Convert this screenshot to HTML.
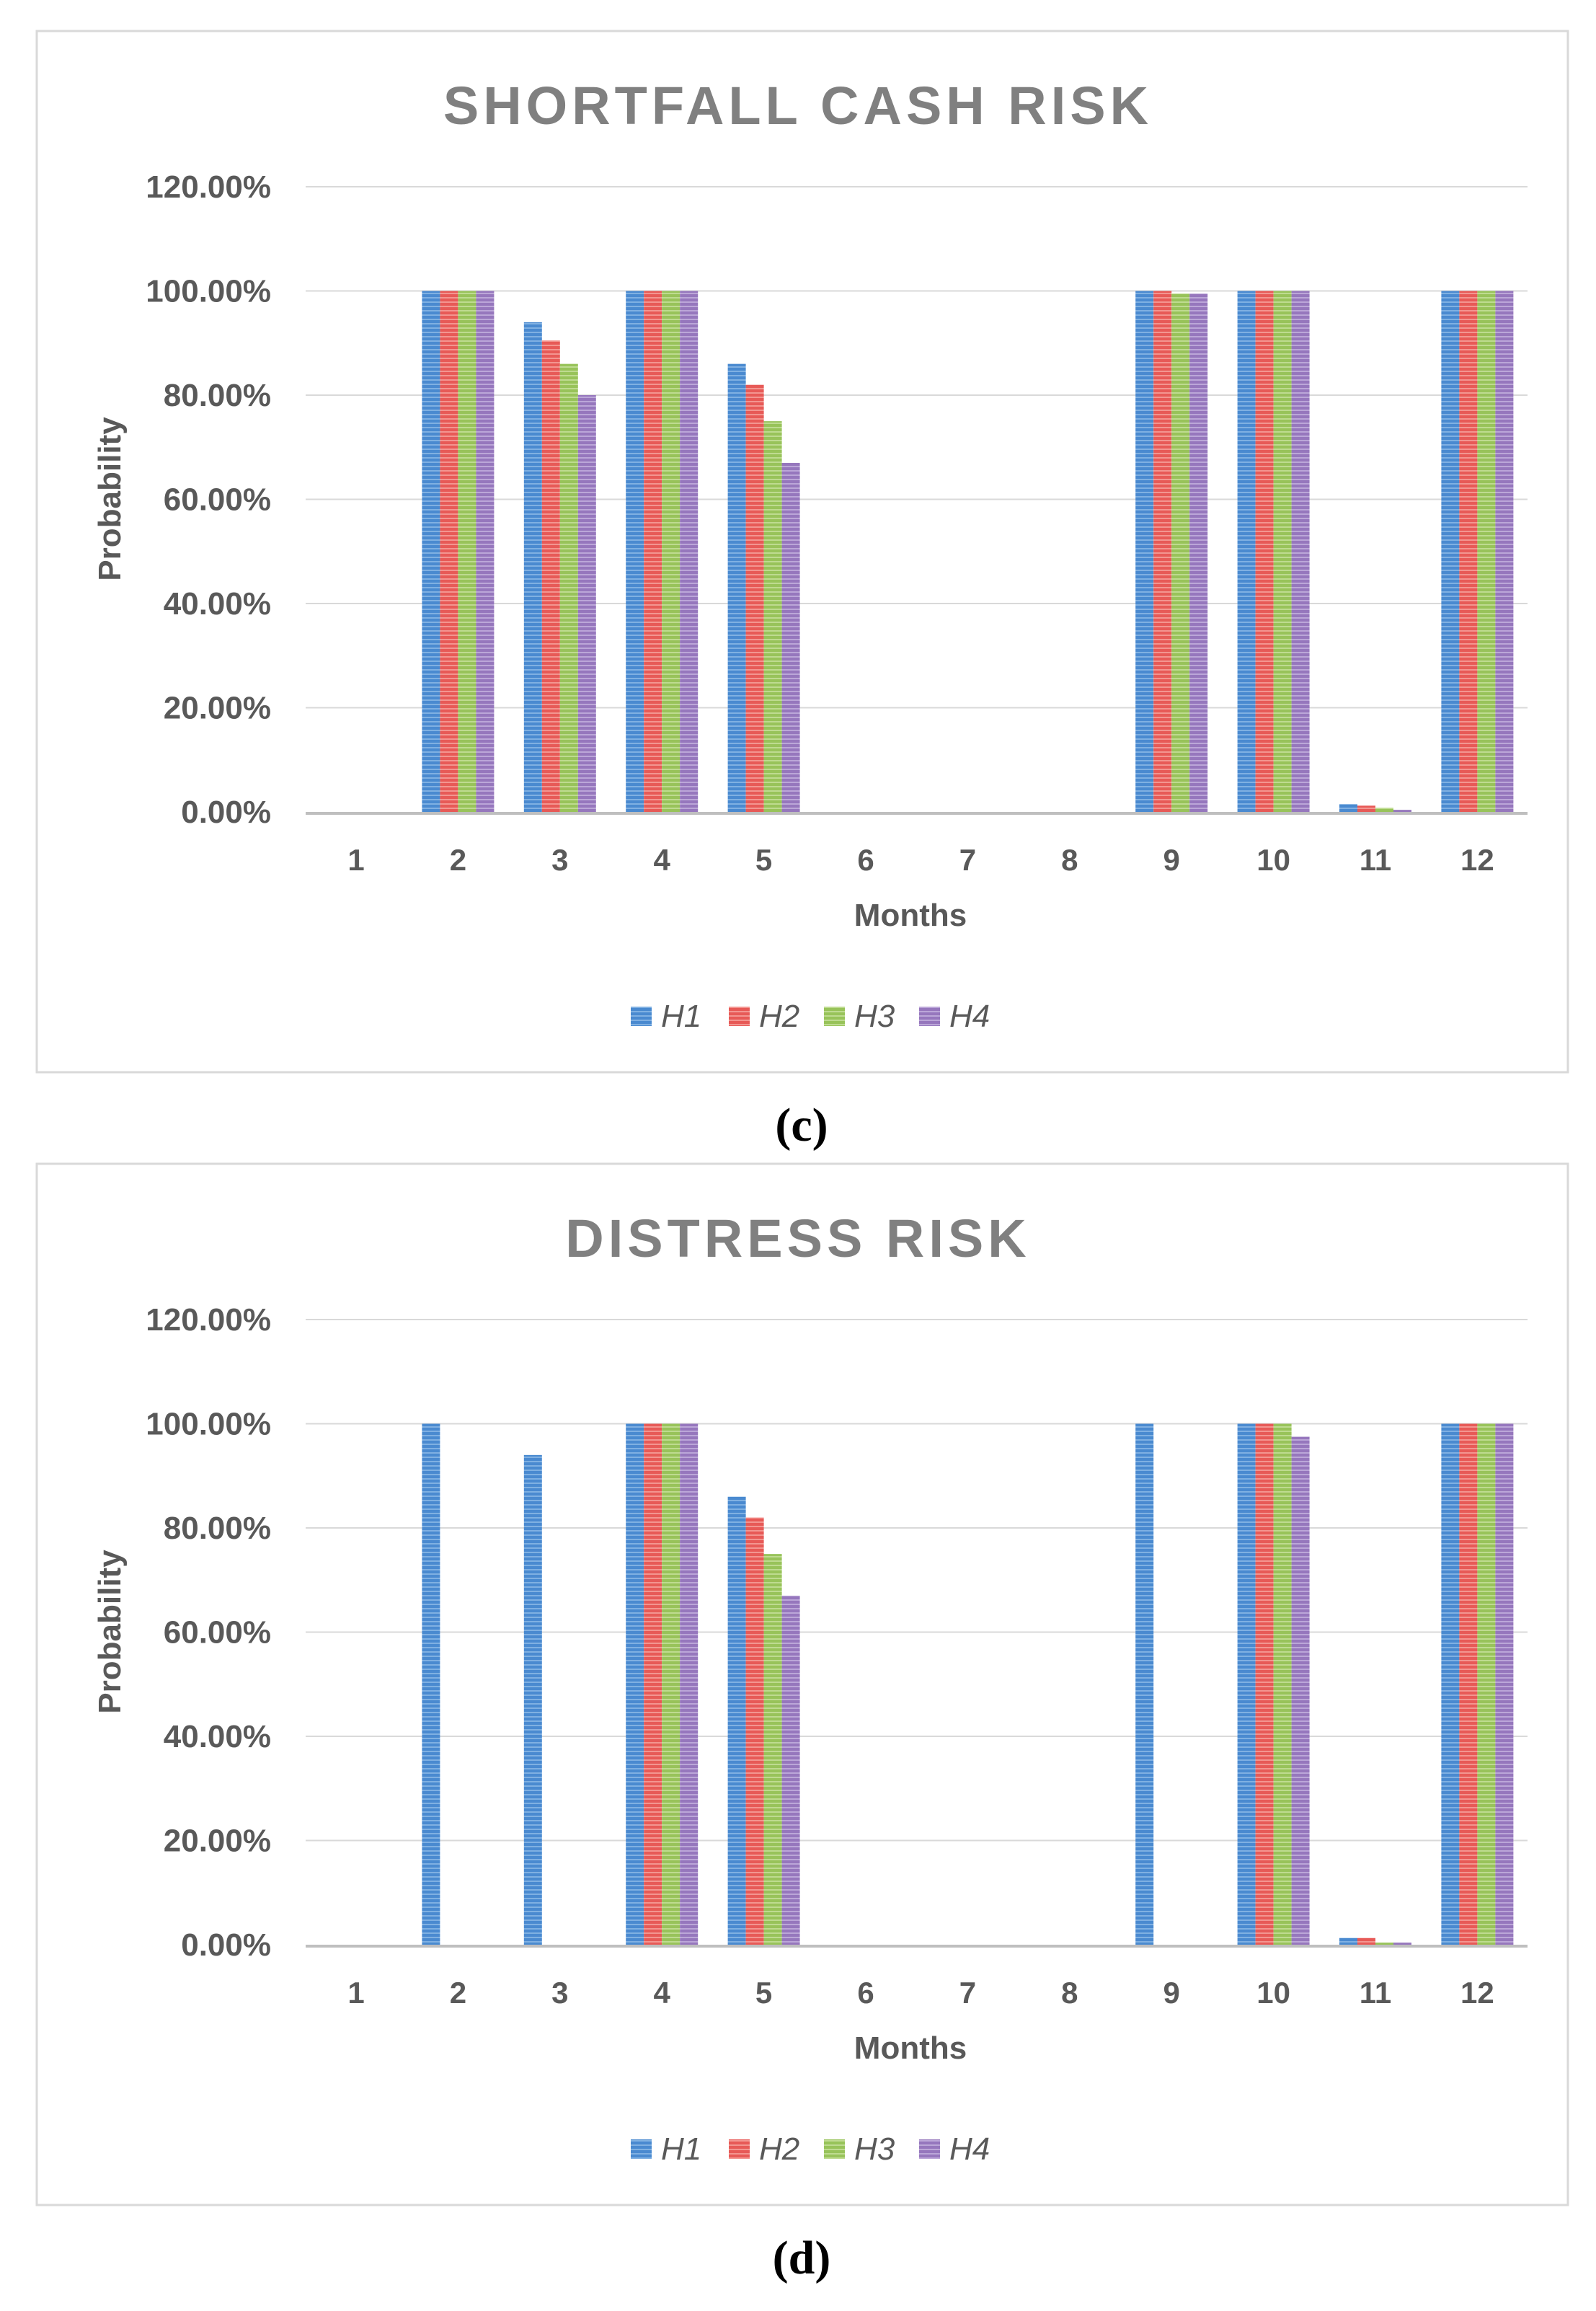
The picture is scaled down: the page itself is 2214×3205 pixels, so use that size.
<!DOCTYPE html>
<html><head><meta charset="utf-8">
<style>
html,body{margin:0;padding:0;background:#fff;}
svg{display:block;}
</style></head>
<body>
<svg id="s" xmlns="http://www.w3.org/2000/svg" width="2214" height="3205" viewBox="0 0 2214 3205">
<defs>
<pattern id="pb" width="10" height="6" patternUnits="userSpaceOnUse"><rect width="10" height="6" fill="#4a8ad0"/><rect y="4" width="10" height="2" fill="#7fb0e2"/></pattern>
<pattern id="pr" width="10" height="6" patternUnits="userSpaceOnUse"><rect width="10" height="6" fill="#e75a57"/><rect y="4" width="10" height="2" fill="#f39590"/></pattern>
<pattern id="pg" width="10" height="6" patternUnits="userSpaceOnUse"><rect width="10" height="6" fill="#98c35a"/><rect y="4" width="10" height="2" fill="#bedb90"/></pattern>
<pattern id="pp" width="10" height="6" patternUnits="userSpaceOnUse"><rect width="10" height="6" fill="#9677bd"/><rect y="4" width="10" height="2" fill="#bba6d8"/></pattern>
</defs>
<g id="root"></g>
</svg>
<script>
var NS="http://www.w3.org/2000/svg";
var root=document.getElementById('root');
function el(t,a,txt){var e=document.createElementNS(NS,t);for(var k in a)e.setAttribute(k,a[k]);if(txt!==undefined)e.textContent=txt;root.appendChild(e);return e;}
var pats=['url(#pb)','url(#pr)','url(#pg)','url(#pp)'];
function panel(off,title,data,label){
  el('rect',{x:51,y:43+off,width:2124,height:1444,fill:'#fff',stroke:'#d9d9d9','stroke-width':3});
  el('text',{x:1107,y:172+off,'text-anchor':'middle','font-family':'Liberation Sans, sans-serif','font-weight':'bold','font-size':74,fill:'#808080','letter-spacing':6},title);
  var y0=1126+off, step=144.5;
  var labs=['0.00%','20.00%','40.00%','60.00%','80.00%','100.00%','120.00%'];
  for(var i=0;i<7;i++){
    var y=y0-i*step;
    if(i>0) el('line',{x1:424,x2:2119,y1:y,y2:y,stroke:'#d9d9d9','stroke-width':2});
    el('text',{x:376,y:y+15,'text-anchor':'end','font-family':'Liberation Sans, sans-serif','font-weight':'bold','font-size':44,fill:'#595959'},labs[i]);
  }
  for(var c=0;c<12;c++){
    var cx=494+c*141.4;
    for(var s=0;s<4;s++){
      var v=data[c][s]; if(!v) continue;
      var h=v/20*step;
      el('rect',{x:cx-50+s*25,y:y0-h,width:25,height:h,fill:pats[s]});
    }
    el('text',{x:cx,y:1207+off,'text-anchor':'middle','font-family':'Liberation Sans, sans-serif','font-weight':'bold','font-size':42,fill:'#595959'},String(c+1));
  }
  el('line',{x1:424,x2:2119,y1:y0+2,y2:y0+2,stroke:'#bfbfbf','stroke-width':4});
  el('text',{x:0,y:0,'text-anchor':'middle','font-family':'Liberation Sans, sans-serif','font-weight':'bold','font-size':44,fill:'#595959',transform:'translate(167,'+(692+off)+') rotate(-90)'},'Probability');
  el('text',{x:1263,y:1284+off,'text-anchor':'middle','font-family':'Liberation Sans, sans-serif','font-weight':'bold','font-size':44,fill:'#595959'},'Months');
  var lx=[875,1011,1143,1275];
  for(var s=0;s<4;s++){
    el('rect',{x:lx[s],y:1396+off,width:29,height:27,fill:pats[s]});
    el('text',{x:lx[s]+42,y:1424+off,'font-family':'Liberation Sans Narrow, Liberation Sans, sans-serif','font-style':'italic','font-size':44,fill:'#595959'},'H'+(s+1));
  }
  el('text',{x:1112,y:1582+off,'text-anchor':'middle','font-family':'Liberation Serif, serif','font-weight':'bold','font-size':66,fill:'#000'},label);
}
var c=[[0,0,0,0],[100,100,100,100],[94,90.5,86,80],[100,100,100,100],[86,82,75,67],[0,0,0,0],[0,0,0,0],[0,0,0,0],[100,100,99.5,99.5],[100,100,100,100],[1.5,1.2,0.8,0.4],[100,100,100,100]];
var d=[[0,0,0,0],[100,0,0,0],[94,0,0,0],[100,100,100,100],[86,82,75,67],[0,0,0,0],[0,0,0,0],[0,0,0,0],[100,0,0,0],[100,100,100,97.5],[1.3,1.3,0.4,0.4],[100,100,100,100]];
panel(0,'SHORTFALL CASH RISK',c,'(c)');
panel(1571,'DISTRESS RISK',d,'(d)');
</script>
</body></html>
